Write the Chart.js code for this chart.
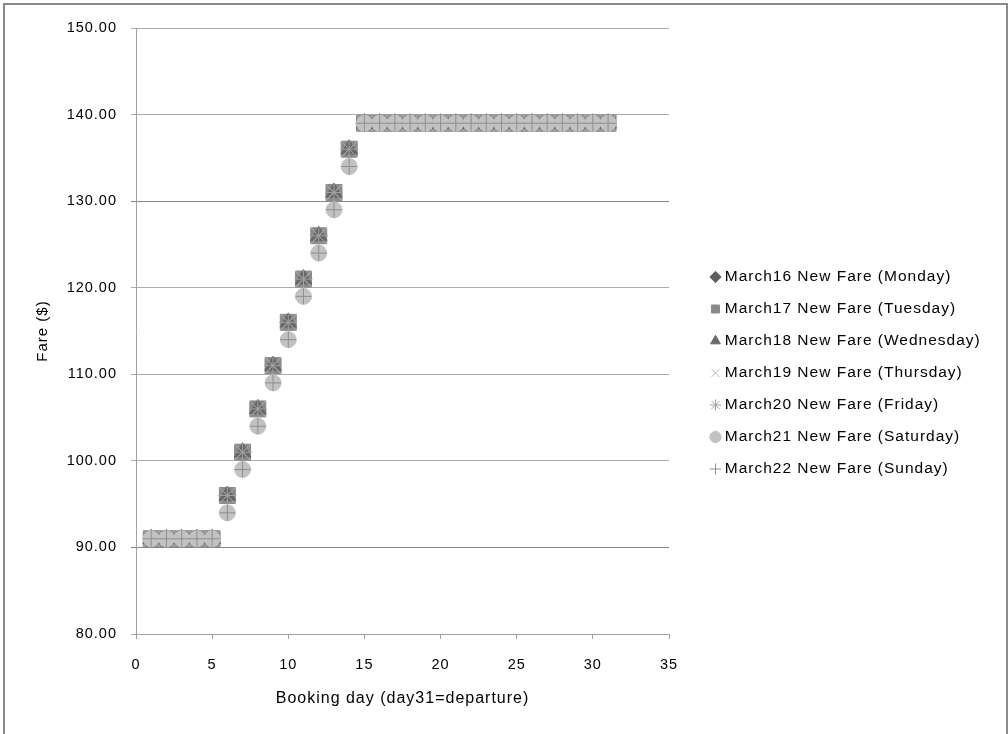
<!DOCTYPE html>
<html>
<head>
<meta charset="utf-8">
<script src="https://cdn.jsdelivr.net/npm/chart.js@4.4.1/dist/chart.umd.min.js"></script>
<style>
  html, body { margin: 0; padding: 0; background: #fff; }
  #wrap { position: relative; width: 1008px; height: 734px; overflow: hidden; }
  #frame { position: absolute; left: 3px; top: 3px; width: 1001px; height: 760px;
           border: 2px solid #8a8a8a; border-bottom: none; pointer-events: none; }
</style>
</head>
<body>
<div id="wrap">
  <canvas id="c" width="1008" height="734"></canvas>
  <div id="frame"></div>
</div>
<script>
// ---- data ----
const bookingDays = [1,2,3,4,5,6,7,8,9,10,11,12,13,14,15,16,17,18,19,20,21,22,23,24,25,26,27,28,29,30,31];
const mondayFare    = [91,91,91,91,91,96,101,106,111,116,121,126,131,136,139,139,139,139,139,139,139,139,139,139,139,139,139,139,139,139,139];
const tuesdayFare   = [91,91,91,91,91,96,101,106,111,116,121,126,131,136,139,139,139,139,139,139,139,139,139,139,139,139,139,139,139,139,139];
const wednesdayFare = [91,91,91,91,91,96,101,106,111,116,121,126,131,136,139,139,139,139,139,139,139,139,139,139,139,139,139,139,139,139,139];
const thursdayFare  = [91,91,91,91,91,96,101,106,111,116,121,126,131,136,139,139,139,139,139,139,139,139,139,139,139,139,139,139,139,139,139];
const fridayFare    = [91,91,91,91,91,96,101,106,111,116,121,126,131,136,139,139,139,139,139,139,139,139,139,139,139,139,139,139,139,139,139];
const saturdayFare  = [91,91,91,91,91,94,99,104,109,114,119,124,129,134,139,139,139,139,139,139,139,139,139,139,139,139,139,139,139,139,139];
const sundayFare    = [91,91,91,91,91,94,99,104,109,114,119,124,129,134,139,139,139,139,139,139,139,139,139,139,139,139,139,139,139,139,139];
const seriesLabels = [
  'March16 New Fare (Monday)',
  'March17 New Fare (Tuesday)',
  'March18 New Fare (Wednesday)',
  'March19 New Fare (Thursday)',
  'March20 New Fare (Friday)',
  'March21 New Fare (Saturday)',
  'March22 New Fare (Sunday)'
];
const xTitle = 'Booking day (day31=departure)';
const yTitle = 'Fare ($)';

const toPoints = arr => arr.map((v, i) => ({ x: bookingDays[i], y: v }));

const FONT = "'Liberation Sans', Arial, sans-serif";

const spacingPlugin = {
  id: 'spacing',
  beforeLayout(chart) { chart.ctx.letterSpacing = '1px'; },
  beforeDraw(chart) { chart.ctx.letterSpacing = '1px'; },
  afterLayout(chart) {
    const l = chart.legend;
    if (!l) return;
    const dx = 28.5, dy = -8;
    l.left += dx;
    l.right = chart.width + 60;
    l.width = l.right - l.left;
    l.top += dy; l.bottom += dy;
  }
};

// later series are drawn on top (as in the reference)
const mk = (label, data, style, radius, bg, border, bw, order) => ({
  label, data: toPoints(data), pointStyle: style, pointRadius: radius, pointHoverRadius: radius,
  backgroundColor: bg, borderColor: border, pointBorderWidth: bw, borderWidth: bw, showLine: false, order
});

new Chart(document.getElementById('c'), {
  type: 'scatter',
  data: {
    datasets: [
      mk(seriesLabels[0], mondayFare, 'rectRot', 8, '#5e5e5e', '#5e5e5e', 1, 6),
      mk(seriesLabels[1], tuesdayFare, 'rect', 11.3, '#8a8a8a', '#8a8a8a', 1, 5),
      mk(seriesLabels[2], wednesdayFare, 'triangle', 9.5, '#686868', '#686868', 1, 4),
      mk(seriesLabels[3], thursdayFare, 'crossRot', 11, '#b5b5b5', '#b5b5b5', 1, 3),
      mk(seriesLabels[4], fridayFare, 'star', 9, '#a0a0a0', '#a0a0a0', 1, 2),
      mk(seriesLabels[5], saturdayFare, 'circle', 8, '#c2c2c2', '#c2c2c2', 1, 1),
      mk(seriesLabels[6], sundayFare, 'cross', 8, '#8e8e8e', '#8e8e8e', 1, 0)
    ]
  },
  options: {
    responsive: false,
    animation: false,
    events: [],
    layout: { padding: { top: 28, left: 0, right: 139, bottom: 0 } },
    plugins: {
      tooltip: { enabled: false },
      legend: {
        position: 'right',
        align: 'center',
        maxWidth: 200,
        labels: {
          usePointStyle: true,
          boxWidth: 3,
          boxHeight: 8,
          padding: 16.5,
          color: '#000',
          font: { family: FONT, size: 15.5 },
          sort: (a, b) => a.datasetIndex - b.datasetIndex
        }
      }
    },
    scales: {
      x: {
        type: 'linear',
        min: 0, max: 35,
        afterFit(s) { s.height = 100; },
        ticks: { stepSize: 5, color: '#000', padding: 17, font: { family: FONT, size: 14.5 } },
        grid: { drawOnChartArea: false, drawTicks: true, tickLength: 5, color: '#a0a0a0' },
        border: { color: '#a0a0a0', width: 1 },
        title: { display: true, text: xTitle, color: '#000', font: { family: FONT, size: 16 }, padding: { top: 0, bottom: 26 } }
      },
      y: {
        type: 'linear',
        min: 80, max: 150,
        afterFit(s) { s.width = 136; },
        ticks: { stepSize: 10, color: '#000', padding: 14, font: { family: FONT, size: 14.5 },
                 callback: v => v.toFixed(2) },
        grid: { drawTicks: true, tickLength: 5,
                color: ctx => (ctx.tick && (ctx.tick.value === 130 || ctx.tick.value === 90)) ? '#858585' : '#ababab' },
        border: { color: '#a0a0a0', width: 1 },
        title: { display: true, text: yTitle, color: '#000', font: { family: FONT, size: 15 }, padding: { top: 34, bottom: 0 } }
      }
    }
  },
  plugins: [spacingPlugin]
});
</script>
</body>
</html>
